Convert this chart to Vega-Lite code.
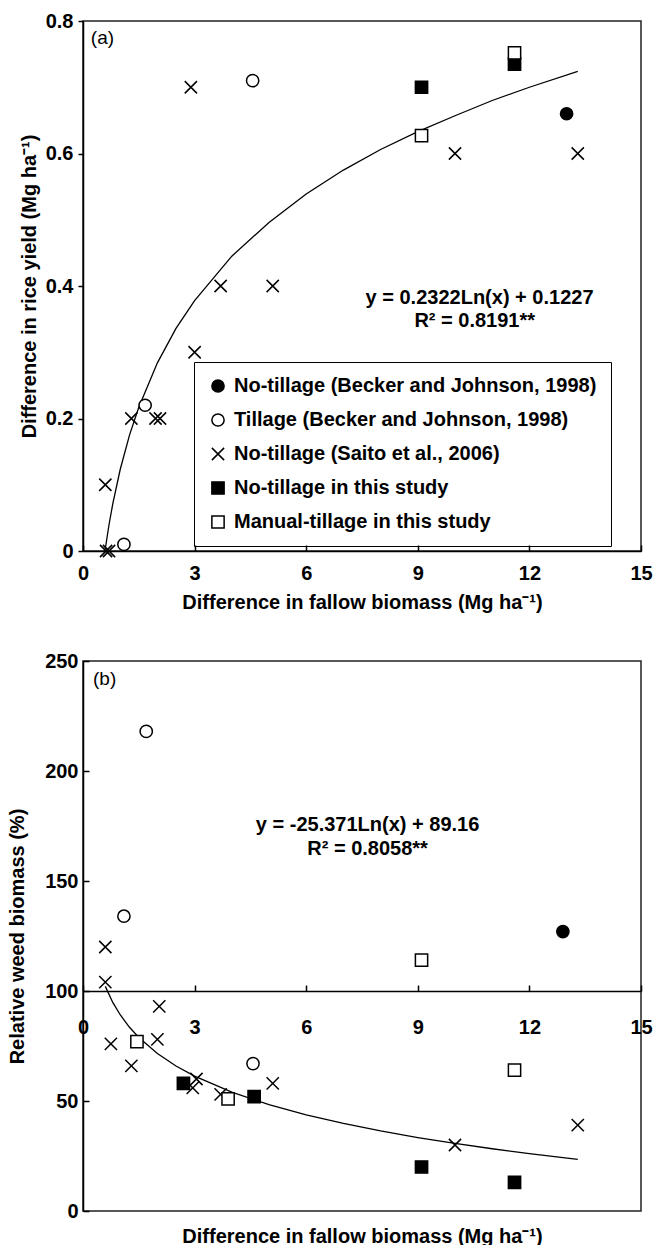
{
  "$schema": "https://vega.github.io/schema/vega-lite/v6.json",
  "background": "white",
  "padding": {"top": 10, "left": 6, "right": 5, "bottom": 2},
  "spacing": 37,
  "config": {
    "font": "Liberation Sans",
    "view": {"stroke": "#222", "strokeWidth": 1.5},
    "axis": {
      "grid": false,
      "domainColor": "#000",
      "domainWidth": 1.5,
      "tickColor": "#000",
      "tickWidth": 1.5,
      "labelFont": "Liberation Sans",
      "labelFontWeight": "bold",
      "labelFontSize": 20,
      "labelColor": "#000",
      "labelFlush": false,
      "labelOverlap": false,
      "titleFont": "Liberation Sans",
      "titleFontWeight": "bold",
      "titleFontSize": 20,
      "titleColor": "#000"
    }
  },
  "datasets": {
    "fitA": [
      {"x": 0.59, "y": 0.0}, {"x": 0.7, "y": 0.040}, {"x": 0.8, "y": 0.071}, {"x": 1.0, "y": 0.123},
      {"x": 1.25, "y": 0.175}, {"x": 1.5, "y": 0.217}, {"x": 2.0, "y": 0.284}, {"x": 2.5, "y": 0.336},
      {"x": 3.0, "y": 0.378}, {"x": 4.0, "y": 0.445}, {"x": 5.0, "y": 0.496}, {"x": 6.0, "y": 0.539},
      {"x": 7.0, "y": 0.575}, {"x": 8.0, "y": 0.606}, {"x": 9.0, "y": 0.633}, {"x": 10.0, "y": 0.657},
      {"x": 11.0, "y": 0.680}, {"x": 12.0, "y": 0.700}, {"x": 13.3, "y": 0.724}
    ],
    "fitB": [
      {"x": 0.6, "y": 102.1}, {"x": 0.8, "y": 94.8}, {"x": 1.0, "y": 89.2}, {"x": 1.25, "y": 83.5},
      {"x": 1.5, "y": 78.9}, {"x": 2.0, "y": 71.6}, {"x": 2.5, "y": 65.9}, {"x": 3.0, "y": 61.3},
      {"x": 4.0, "y": 54.0}, {"x": 5.0, "y": 48.3}, {"x": 6.0, "y": 43.7}, {"x": 7.0, "y": 39.8},
      {"x": 8.0, "y": 36.4}, {"x": 9.0, "y": 33.4}, {"x": 10.0, "y": 30.7}, {"x": 11.0, "y": 28.3},
      {"x": 12.0, "y": 26.1}, {"x": 13.3, "y": 23.5}
    ],
    "ptsA": [
      {"x": 13.0, "y": 0.66, "s": "No-tillage (Becker and Johnson, 1998)"},
      {"x": 4.56, "y": 0.71, "s": "Tillage (Becker and Johnson, 1998)"},
      {"x": 1.67, "y": 0.22, "s": "Tillage (Becker and Johnson, 1998)"},
      {"x": 1.1, "y": 0.01, "s": "Tillage (Becker and Johnson, 1998)"},
      {"x": 2.9, "y": 0.70, "s": "No-tillage (Saito et al., 2006)"},
      {"x": 3.7, "y": 0.40, "s": "No-tillage (Saito et al., 2006)"},
      {"x": 5.1, "y": 0.40, "s": "No-tillage (Saito et al., 2006)"},
      {"x": 3.0, "y": 0.30, "s": "No-tillage (Saito et al., 2006)"},
      {"x": 1.3, "y": 0.20, "s": "No-tillage (Saito et al., 2006)"},
      {"x": 1.95, "y": 0.20, "s": "No-tillage (Saito et al., 2006)"},
      {"x": 2.07, "y": 0.20, "s": "No-tillage (Saito et al., 2006)"},
      {"x": 0.6, "y": 0.10, "s": "No-tillage (Saito et al., 2006)"},
      {"x": 0.62, "y": 0.0, "s": "No-tillage (Saito et al., 2006)"},
      {"x": 0.7, "y": 0.0, "s": "No-tillage (Saito et al., 2006)"},
      {"x": 10.0, "y": 0.60, "s": "No-tillage (Saito et al., 2006)"},
      {"x": 13.3, "y": 0.60, "s": "No-tillage (Saito et al., 2006)"},
      {"x": 9.1, "y": 0.70, "s": "No-tillage in this study"},
      {"x": 11.6, "y": 0.735, "s": "No-tillage in this study"},
      {"x": 9.1, "y": 0.627, "s": "Manual-tillage in this study"},
      {"x": 11.6, "y": 0.752, "s": "Manual-tillage in this study"}
    ],
    "ptsB": [
      {"x": 12.9, "y": 127, "s": "No-tillage (Becker and Johnson, 1998)"},
      {"x": 1.7, "y": 218, "s": "Tillage (Becker and Johnson, 1998)"},
      {"x": 1.1, "y": 134, "s": "Tillage (Becker and Johnson, 1998)"},
      {"x": 4.57, "y": 67, "s": "Tillage (Becker and Johnson, 1998)"},
      {"x": 0.6, "y": 120, "s": "No-tillage (Saito et al., 2006)"},
      {"x": 0.6, "y": 104, "s": "No-tillage (Saito et al., 2006)"},
      {"x": 0.75, "y": 76, "s": "No-tillage (Saito et al., 2006)"},
      {"x": 1.3, "y": 66, "s": "No-tillage (Saito et al., 2006)"},
      {"x": 2.05, "y": 93, "s": "No-tillage (Saito et al., 2006)"},
      {"x": 2.0, "y": 78, "s": "No-tillage (Saito et al., 2006)"},
      {"x": 2.95, "y": 56, "s": "No-tillage (Saito et al., 2006)"},
      {"x": 3.05, "y": 60, "s": "No-tillage (Saito et al., 2006)"},
      {"x": 3.7, "y": 53, "s": "No-tillage (Saito et al., 2006)"},
      {"x": 5.1, "y": 58, "s": "No-tillage (Saito et al., 2006)"},
      {"x": 10.0, "y": 30, "s": "No-tillage (Saito et al., 2006)"},
      {"x": 13.3, "y": 39, "s": "No-tillage (Saito et al., 2006)"},
      {"x": 2.7, "y": 58, "s": "No-tillage in this study"},
      {"x": 4.6, "y": 52, "s": "No-tillage in this study"},
      {"x": 9.1, "y": 20, "s": "No-tillage in this study"},
      {"x": 11.6, "y": 13, "s": "No-tillage in this study"},
      {"x": 1.45, "y": 77, "s": "Manual-tillage in this study"},
      {"x": 3.9, "y": 51, "s": "Manual-tillage in this study"},
      {"x": 9.1, "y": 114, "s": "Manual-tillage in this study"},
      {"x": 11.6, "y": 64, "s": "Manual-tillage in this study"}
    ],
    "eqA": [
      {"x": 10.66, "y": 0.382, "label": "y = 0.2322Ln(x) + 0.1227"},
      {"x": 10.53, "y": 0.347, "label": "R² = 0.8191**"}
    ],
    "eqB": [
      {"x": 7.65, "y": 175.5, "label": "y = -25.371Ln(x) + 89.16"},
      {"x": 7.65, "y": 164.5, "label": "R² = 0.8058**"}
    ],
    "tagA": [{"x": 0.21, "y": 0.774, "label": "(a)"}],
    "tagB": [{"x": 0.27, "y": 242, "label": "(b)"}]
  },
  "vconcat": [
    {
      "width": 558,
      "height": 530,
      "encoding": {
        "x": {
          "field": "x", "type": "quantitative",
          "scale": {"domain": [0, 15], "nice": false, "zero": false},
          "axis": {"values": [0, 3, 6, 9, 12, 15], "tickSize": -6, "labelPadding": 18, "title": "Difference in fallow biomass (Mg ha⁻¹)", "titlePadding": 9}
        },
        "y": {
          "field": "y", "type": "quantitative",
          "scale": {"domain": [0, 0.8], "nice": false},
          "axis": {"values": [0, 0.2, 0.4, 0.6, 0.8], "tickSize": 5, "labelPadding": 5, "labelExpr": "datum.value == 0 ? '0' : format(datum.value, '.1f')", "title": "Difference in rice yield (Mg ha⁻¹)", "titlePadding": 6}
        }
      },
      "layer": [
        {"data": {"name": "fitA"}, "mark": {"type": "line", "color": "black", "strokeWidth": 1.3}},
        {
          "data": {"name": "ptsA"},
          "mark": {"type": "point", "size": 150, "strokeWidth": 1.5, "opacity": 1},
          "encoding": {
            "shape": {"field": "s", "type": "nominal",
              "scale": {"domain": ["No-tillage (Becker and Johnson, 1998)", "Tillage (Becker and Johnson, 1998)", "No-tillage (Saito et al., 2006)", "No-tillage in this study", "Manual-tillage in this study"],
                "range": ["circle", "circle", "M-1,-1L1,1M-1,1L1,-1", "square", "square"]},
              "legend": {"title": null, "orient": "none", "legendX": 111, "legendY": 341, "strokeColor": "black", "padding": 14, "rowPadding": 14, "symbolSize": 150, "symbolStrokeWidth": 1.5, "labelFont": "Liberation Sans", "labelFontSize": 20, "labelFontWeight": "bold", "labelColor": "#000", "labelLimit": 500, "labelOffset": 6}
            },
            "fill": {"field": "s", "type": "nominal",
              "scale": {"domain": ["No-tillage (Becker and Johnson, 1998)", "Tillage (Becker and Johnson, 1998)", "No-tillage (Saito et al., 2006)", "No-tillage in this study", "Manual-tillage in this study"],
                "range": ["black", "white", "transparent", "black", "white"]},
              "legend": {"title": null, "orient": "none", "legendX": 111, "legendY": 341, "strokeColor": "black", "padding": 14, "rowPadding": 14, "symbolSize": 150, "symbolStrokeWidth": 1.5, "labelFont": "Liberation Sans", "labelFontSize": 20, "labelFontWeight": "bold", "labelColor": "#000", "labelLimit": 500, "labelOffset": 6}
            },
            "stroke": {"field": "s", "type": "nominal",
              "scale": {"domain": ["No-tillage (Becker and Johnson, 1998)", "Tillage (Becker and Johnson, 1998)", "No-tillage (Saito et al., 2006)", "No-tillage in this study", "Manual-tillage in this study"],
                "range": ["black", "black", "black", "black", "black"]},
              "legend": {"title": null, "orient": "none", "legendX": 111, "legendY": 341, "strokeColor": "black", "padding": 14, "rowPadding": 14, "symbolSize": 150, "symbolStrokeWidth": 1.5, "labelFont": "Liberation Sans", "labelFontSize": 20, "labelFontWeight": "bold", "labelColor": "#000", "labelLimit": 500, "labelOffset": 6}
            }
          }
        },
        {
          "data": {"name": "eqA"},
          "mark": {"type": "text", "font": "Liberation Sans", "fontSize": 20, "fontWeight": "bold", "align": "center", "baseline": "middle", "color": "black"},
          "encoding": {"text": {"field": "label", "type": "nominal"}}
        },
        {
          "data": {"name": "tagA"},
          "mark": {"type": "text", "font": "Liberation Sans", "fontSize": 19, "align": "left", "baseline": "middle", "color": "black"},
          "encoding": {"text": {"field": "label", "type": "nominal"}}
        }
      ]
    },
    {
      "width": 558,
      "height": 550,
      "encoding": {
        "x": {
          "field": "x", "type": "quantitative",
          "scale": {"domain": [0, 15], "nice": false, "zero": false},
          "axis": {"values": [0, 3, 6, 9, 12, 15], "offset": -220, "tickSize": -6, "labelPadding": 32, "title": "Difference in fallow biomass (Mg ha⁻¹)", "titleY": 245, "titleBaseline": "middle"}
        },
        "y": {
          "field": "y", "type": "quantitative",
          "scale": {"domain": [0, 250], "nice": false},
          "axis": {"values": [0, 50, 100, 150, 200, 250], "tickSize": -6, "labelPadding": 11, "title": "Relative weed biomass (%)", "titlePadding": 17}
        }
      },
      "layer": [
        {"data": {"name": "fitB"}, "mark": {"type": "line", "color": "black", "strokeWidth": 1.3}},
        {
          "data": {"name": "ptsB"},
          "mark": {"type": "point", "size": 150, "stroke": "black", "strokeWidth": 1.5, "opacity": 1},
          "encoding": {
            "shape": {"field": "s", "type": "nominal",
              "scale": {"domain": ["No-tillage (Becker and Johnson, 1998)", "Tillage (Becker and Johnson, 1998)", "No-tillage (Saito et al., 2006)", "No-tillage in this study", "Manual-tillage in this study"],
                "range": ["circle", "circle", "M-1,-1L1,1M-1,1L1,-1", "square", "square"]},
              "legend": null
            },
            "fill": {"field": "s", "type": "nominal",
              "scale": {"domain": ["No-tillage (Becker and Johnson, 1998)", "Tillage (Becker and Johnson, 1998)", "No-tillage (Saito et al., 2006)", "No-tillage in this study", "Manual-tillage in this study"],
                "range": ["black", "white", "transparent", "black", "white"]},
              "legend": null
            }
          }
        },
        {
          "data": {"name": "eqB"},
          "mark": {"type": "text", "font": "Liberation Sans", "fontSize": 20, "fontWeight": "bold", "align": "center", "baseline": "middle", "color": "black"},
          "encoding": {"text": {"field": "label", "type": "nominal"}}
        },
        {
          "data": {"name": "tagB"},
          "mark": {"type": "text", "font": "Liberation Sans", "fontSize": 19, "align": "left", "baseline": "middle", "color": "black"},
          "encoding": {"text": {"field": "label", "type": "nominal"}}
        }
      ]
    }
  ],
  "resolve": {"scale": {"shape": "independent", "fill": "independent", "stroke": "independent"}, "legend": {"shape": "independent", "fill": "independent", "stroke": "independent"}}
}
